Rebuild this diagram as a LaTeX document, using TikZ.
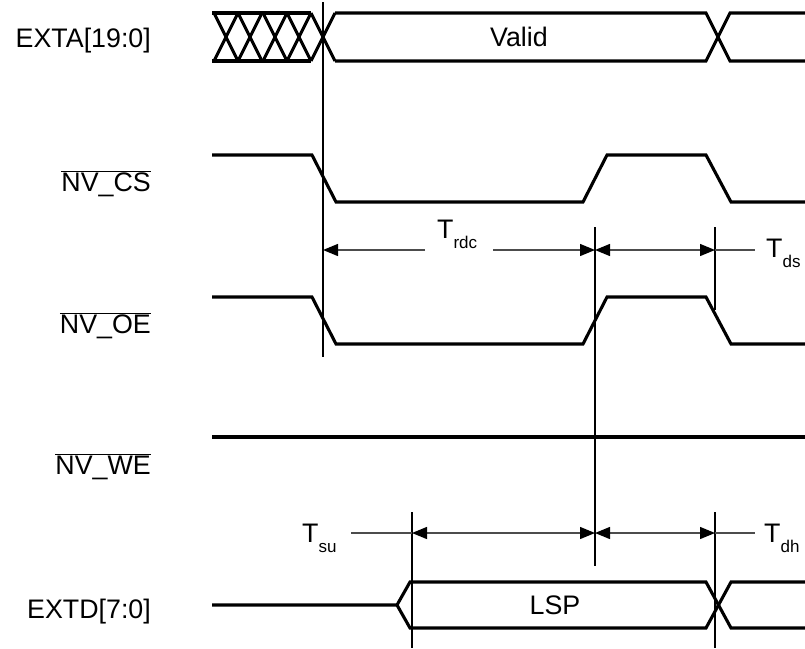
\documentclass[tikz,border=0pt]{standalone}
\usepackage{fontspec}
\setmainfont{Liberation Sans}
\usetikzlibrary{arrows.meta}

\newcommand{\tsub}[1]{T\raisebox{-10pt}{\fontsize{17}{17}\selectfont #1}}
\newcommand{\sigbar}[1]{$\overline{\hbox{#1}}$}

\tikzset{
  wave/.style={line width=3.1pt, line join=miter},
  mark line/.style={line width=1.1pt},
  dim/.style={line width=1.3pt, black!70},
  tip/.style={-{Triangle[length=15pt,width=12pt,color=black]}},
  tips/.style={{Triangle[length=15pt,width=12pt,color=black]}-{Triangle[length=15pt,width=12pt,color=black]}}
}

\begin{document}
\begin{tikzpicture}[x=1pt,y=-1pt]
  \useasboundingbox (0,0) rectangle (805,648);
  \fontsize{26.8}{30}\selectfont

  % signal names
  \begin{scope}[every node/.style={anchor=base east, inner sep=0pt}]
    \node (exta) at (151,47) {EXTA[19:0]};
    \node (cs)   at (151,191) {\sigbar{NV\_CS}};
    \node (oe)   at (151,333) {\sigbar{NV\_OE}};
    \node (we)   at (151,474) {\sigbar{NV\_WE}};
    \node (extd) at (151,618) {EXTD[7:0]};
  \end{scope}

  % EXTA: invalid, then valid
  \begin{scope}[wave]
    \draw (212,13) -- (311,13) (212,61) -- (311,61);
    \foreach \c in {226,250,275,299,323}
      \draw (\c-12,13) -- (\c+12,61) (\c-12,61) -- (\c+12,13);
    \draw (335,13) -- (706,13) -- (730,61) -- (805,61);
    \draw (335,61) -- (706,61) -- (730,13) -- (805,13);
    % chip select and output enable
    \draw (212,155) -- (312,155) -- (336,202) -- (583,202) -- (607,155)
      -- (706,155) -- (731,202) -- (805,202);
    \draw (212,297) -- (312,297) -- (336,344) -- (583,344) -- (607,297)
      -- (706,297) -- (731,344) -- (805,344);
    % write enable
    \draw (212,437) -- (805,437);
    % data
    \draw (212,605) -- (397,605) -- (410,582) -- (706,582) -- (731,628) -- (805,628);
    \draw (397,605) -- (410,628) -- (706,628) -- (731,582) -- (805,582);
  \end{scope}
  \node (valid) at (519,37) {Valid};
  \node (lsp)   at (555,605) {LSP};

  % timing marks
  \begin{scope}[mark line]
    \draw (323,2) -- (323,357);
    \draw (595,227) -- (595,566);
    \draw (715,227) -- (715,310);
    \draw (412,512) -- (412,648);
    \draw (715,512) -- (715,648);
  \end{scope}

  % read cycle
  \coordinate (rdcL) at (323,250);
  \coordinate (rdcA) at (425,250);
  \coordinate (rdcB) at (493,250);
  \coordinate (rdcR) at (595,250);
  \coordinate (dsR)  at (715,250);
  \coordinate (dsE)  at (755,250);
  \draw[dim,tip] (rdcA) -- (rdcL);
  \draw[dim,tip] (rdcB) -- (rdcR);
  \draw[dim,tips] (rdcR) -- (dsR);
  \draw[dim] (dsR) -- (dsE);
  \node[anchor=base west, inner sep=0pt] (trdc) at (437,238) {\tsub{rdc}};
  \node[anchor=base west, inner sep=0pt] (tds)  at (766,257) {\tsub{ds}};

  % setup and hold
  \coordinate (suE) at (351,533);
  \coordinate (suL) at (412,533);
  \coordinate (suR) at (595,533);
  \coordinate (dhR) at (715,533);
  \coordinate (dhE) at (755,533);
  \draw[dim] (suE) -- (suL);
  \draw[dim,tips] (suL) -- (suR);
  \draw[dim,tips] (suR) -- (dhR);
  \draw[dim] (dhR) -- (dhE);
  \node[anchor=base west, inner sep=0pt] (tsu) at (302,542) {\tsub{su}};
  \node[anchor=base west, inner sep=0pt] (tdh) at (764,542) {\tsub{dh}};
\end{tikzpicture}
\end{document}
